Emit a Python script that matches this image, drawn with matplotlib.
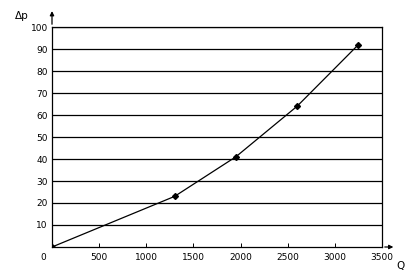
import matplotlib
matplotlib.use("Agg")
import matplotlib.pyplot as plt
import numpy as np

# flow rate vs pressure drop
q_values = [0, 1300, 1950, 2600, 3250]
dp_values = [0, 23, 41, 64, 92]
x_ticks = [500, 1000, 1500, 2000, 2500, 3000, 3500]
y_ticks = [10, 20, 30, 40, 50, 60, 70, 80, 90, 100]

plt.rcParams['font.family'] = ['DejaVu Sans']

fig = plt.figure(figsize=(4.15, 2.78), dpi=100)
ax = fig.add_axes([52 / 415, 1 - 247 / 278, 330 / 415, 220 / 278])

for y in y_ticks:
    ax.axhline(y, color='black', linewidth=0.9, zorder=1)

ax.plot(q_values, dp_values, color='black', linewidth=0.9, zorder=2)
ax.plot(q_values, dp_values, linestyle='none', marker='D', markersize=3,
        color='black', zorder=3)

ax.set_xlim(0, 3500)
ax.set_ylim(0, 100)
ax.set_xticks(x_ticks)
ax.set_yticks(y_ticks)
ax.tick_params(axis='both', labelsize=6.5, length=0, pad=3)
ax.tick_params(axis='x', direction='in', length=3, width=0.7, pad=4)
for side in ['left', 'bottom', 'right', 'top']:
    ax.spines[side].set_linewidth(0.9)

# axis arrows
ax.annotate('', xy=(0, 108.5), xytext=(0, 100), annotation_clip=False,
            arrowprops=dict(arrowstyle='-|>', color='black', lw=0.9,
                            mutation_scale=6))
ax.annotate('', xy=(3650, 0), xytext=(3500, 0), annotation_clip=False,
            arrowprops=dict(arrowstyle='-|>', color='black', lw=0.9,
                            mutation_scale=6))

fig.text(43 / 415, 1 - 258 / 278, '0', fontsize=6.5, ha='center', va='center')
fig.text(22 / 415, 1 - 16 / 278, 'Δp', fontsize=7.5, ha='center', va='center')
fig.text(400 / 415, 1 - 266 / 278, 'Q', fontsize=7.5, ha='center', va='center')

fig.savefig('out.png', dpi=100)
